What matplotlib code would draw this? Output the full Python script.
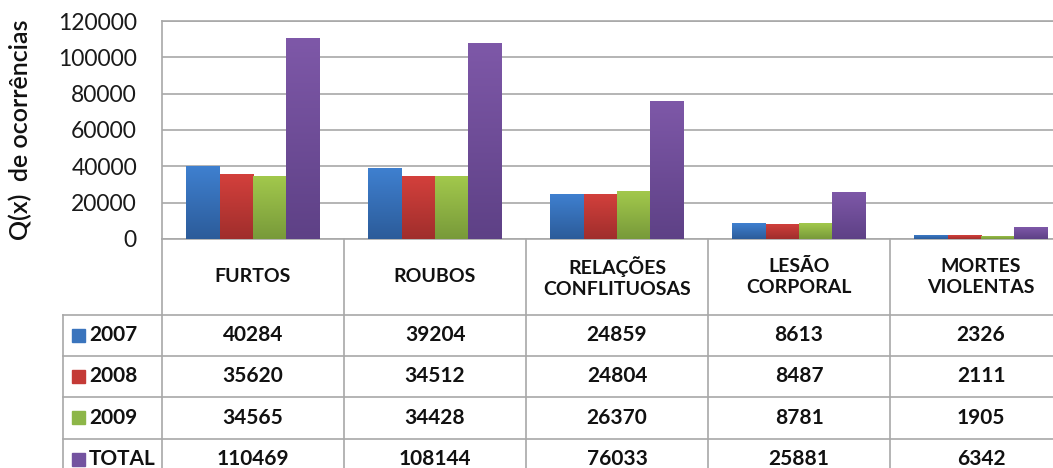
import numpy as np
import matplotlib
matplotlib.use("Agg")
import matplotlib.pyplot as plt
from matplotlib.colors import LinearSegmentedColormap

# ---- data ----
categories = ["FURTOS", "ROUBOS", "RELAÇÕES\nCONFLITUOSAS", "LESÃO\nCORPORAL", "MORTES\nVIOLENTAS"]
series_names = ["2007", "2008", "2009", "TOTAL"]
v2007 = [40284, 39204, 24859, 8613, 2326]
v2008 = [35620, 34512, 24804, 8487, 2111]
v2009 = [34565, 34428, 26370, 8781, 1905]
vtotal = [110469, 108144, 76033, 25881, 6342]
yticks = [0, 20000, 40000, 60000, 80000, 100000, 120000]
ylabel = "Q(x)  de ocorrências"

series = [v2007, v2008, v2009, vtotal]
top_colors = ["#3F80D0", "#D3403C", "#A2C84C", "#7E58A8"]
bot_colors = ["#2C5C9A", "#A02E2C", "#789A3A", "#5E4186"]
key_colors = ["#3A74BD", "#C43A36", "#8DB648", "#7453A0"]

plt.rcParams['font.family'] = ['Lato', 'DejaVu Sans']

W, H = 1053, 468
fig = plt.figure(figsize=(W / 100, H / 100), dpi=100)

x_left, x_right = 162, 1072
y_top, y_zero = 21, 239
ax = fig.add_axes([x_left / W, 1 - y_zero / H, (x_right - x_left) / W, (y_zero - y_top) / H])

n = len(categories)
x = np.arange(n)
bw = 0.1827
grid_c = "#A8A8A8"

for i, vals in enumerate(series):
    bars = ax.bar(x + (i - 1.5) * bw, vals, bw, color=top_colors[i], zorder=3, linewidth=0)
    cmap = LinearSegmentedColormap.from_list("g%d" % i, [bot_colors[i], top_colors[i]])
    grad = np.linspace(0, 1, 64).reshape(-1, 1)
    for b in bars:
        x0, y0 = b.get_x(), b.get_y()
        im = ax.imshow(grad, cmap=cmap, origin="lower", aspect="auto",
                       extent=(x0, x0 + b.get_width(), y0, y0 + b.get_height()),
                       zorder=4, interpolation="bilinear")
        im.set_clip_path(b)

ax.set_xlim(-0.5, n - 0.5)
ax.set_ylim(0, 120000)
ax.set_yticks(yticks)
ax.set_yticklabels([str(t) for t in yticks], fontsize=16.5, color="#1a1a1a")
ax.tick_params(axis="y", length=0, pad=18)
ax.set_xticks([])
ax.yaxis.grid(True, color=grid_c, linewidth=1.2, zorder=0)
ax.set_axisbelow(True)
for s in ["left", "bottom", "top", "right"]:
    ax.spines[s].set_color(grid_c)
    ax.spines[s].set_linewidth(1.2)
ax.set_ylabel(ylabel, fontsize=18, color="#111111", fontweight="semibold")
ax.yaxis.set_label_coords(-130 / (x_right - x_left), 0.5)

# ---- data table ----
y_bottom_tab = 480
axt = fig.add_axes([x_left / W, 1 - y_bottom_tab / H, (x_right - x_left) / W, (y_bottom_tab - y_zero) / H])
axt.set_xlim(-0.5, n - 0.5)
axt.set_ylim(y_bottom_tab, y_zero)
axt.axis("off")
lab_left = -0.5 - (x_left - 63) / ((x_right - x_left) / n)
row_edges = [239, 315, 356, 397, 439, 480]
unit = (x_right - x_left) / n

for k in range(n + 1):
    axt.plot([k - 0.5, k - 0.5], [y_zero, y_bottom_tab], color=grid_c, lw=1.2, clip_on=False)
axt.plot([lab_left, lab_left], [row_edges[1], y_bottom_tab], color=grid_c, lw=1.2, clip_on=False)
for ye in row_edges[1:-1]:
    axt.plot([lab_left, n - 0.5], [ye, ye], color=grid_c, lw=1.2, clip_on=False)

for j, c in enumerate(categories):
    axt.text(j, (row_edges[0] + row_edges[1]) / 2, c, ha="center", va="center",
             fontsize=14, fontweight="bold", color="#111111", linespacing=1.3)

for i, vals in enumerate(series):
    yc = (row_edges[i + 1] + row_edges[i + 2]) / 2
    for j, v in enumerate(vals):
        axt.text(j, yc, str(v), ha="center", va="center", fontsize=15,
                 fontweight="bold", color="#111111")
    kx = lab_left + 9 / unit
    axt.add_patch(plt.Rectangle((kx, yc - 6.5), 13 / unit, 13, color=key_colors[i], clip_on=False))
    axt.text(lab_left + 26 / unit, yc, series_names[i], ha="left", va="center",
             fontsize=15, fontweight="bold", color="#111111", clip_on=False)

fig.savefig("out.png", dpi=100)
